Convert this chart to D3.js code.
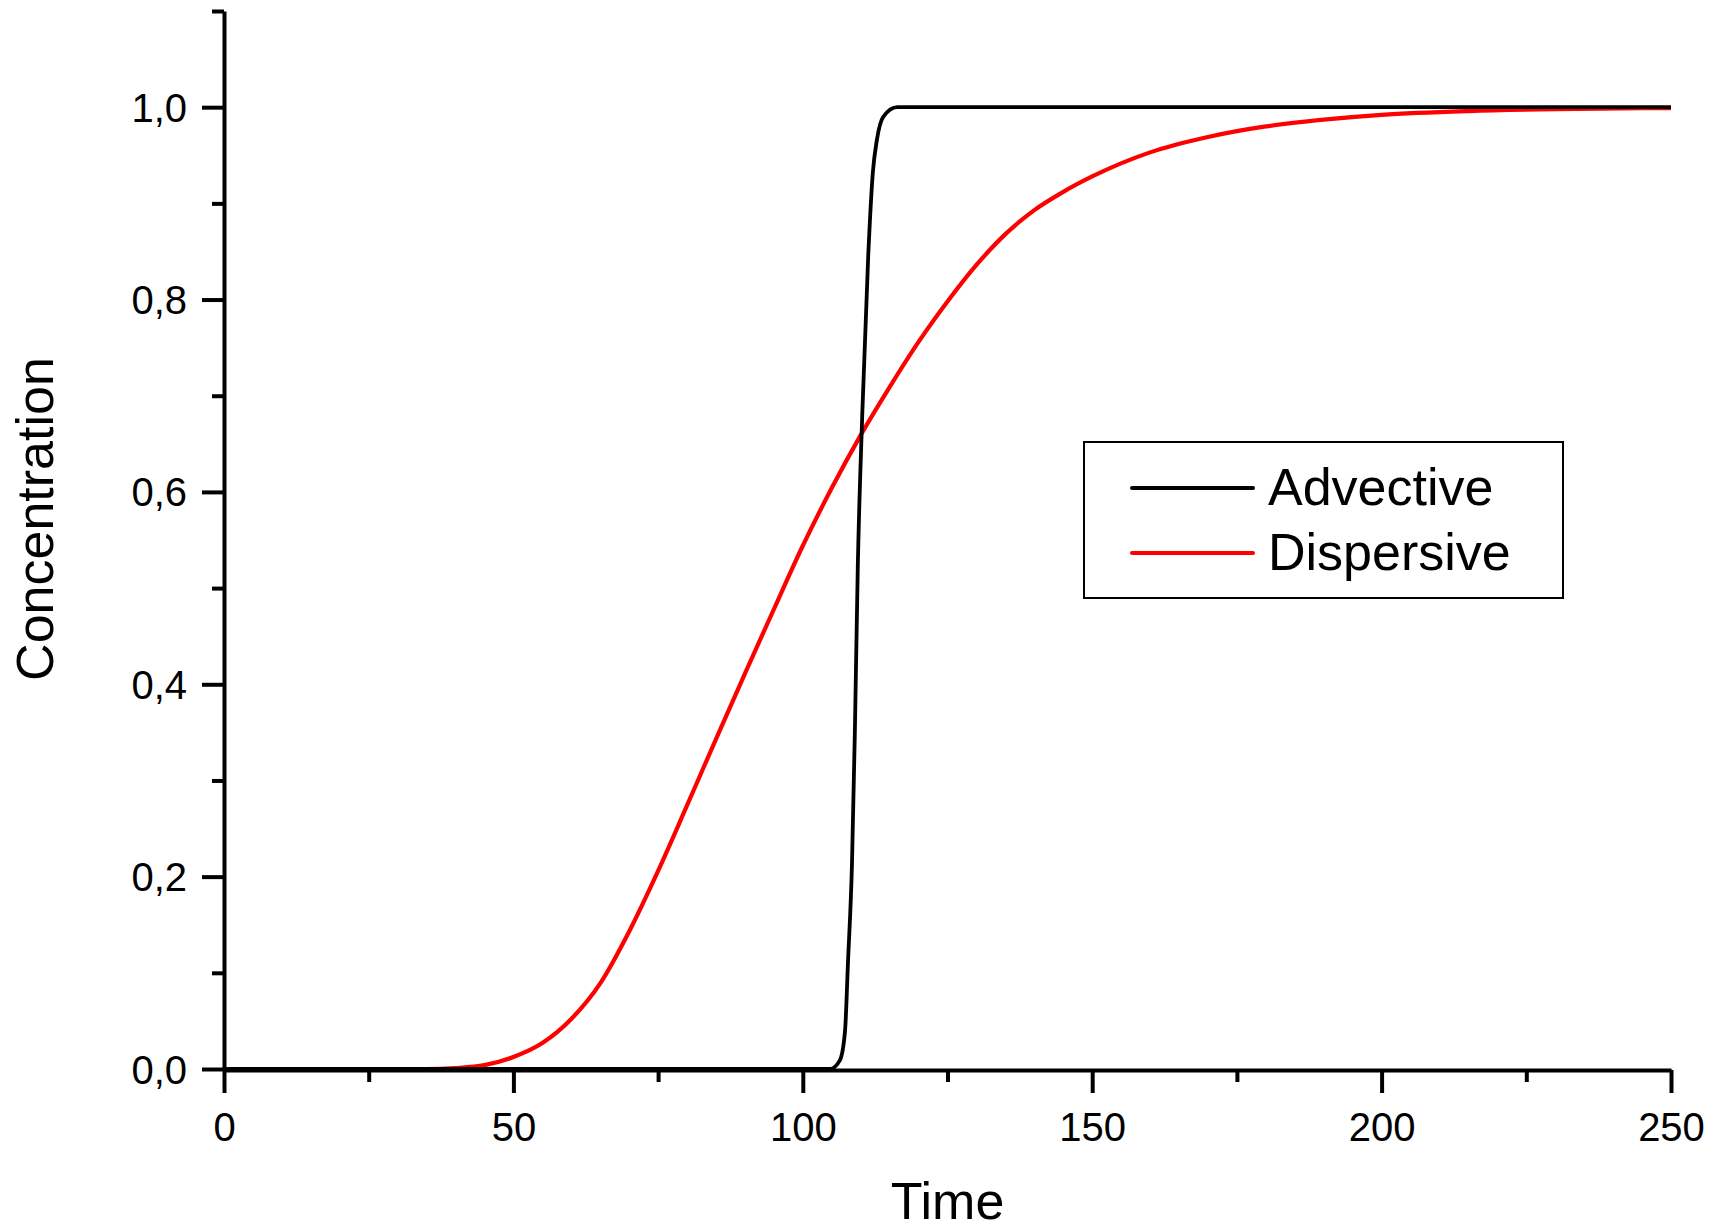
<!DOCTYPE html>
<html>
<head>
<meta charset="utf-8">
<script src="https://cdn.jsdelivr.net/npm/d3@7.9.0/dist/d3.min.js"></script>
<style>
  body { margin: 0; background: #fff; }
  svg { display: block; font-family: "Liberation Sans", Arial, sans-serif; }
</style>
</head>
<body>
<svg id="chart" width="1725" height="1229"></svg>
<script>
// data
const advectiveTime = [0, 104.7, 106.4, 107.3, 107.8, 108.5, 109.0, 109.5, 110.3, 111.3, 112.1, 112.8, 113.9, 116.3, 250];
const advectiveConc = [0, 0, 0.009, 0.04, 0.11, 0.214, 0.352, 0.522, 0.685, 0.845, 0.932, 0.966, 0.99, 1.0, 1.0];

const dispersiveTime = [0, 35, 40, 45, 50, 55, 60, 65, 70, 75, 80, 85, 90, 95, 100, 105, 110, 115, 120, 125, 130, 135, 140, 145, 150, 160, 170, 180, 190, 200, 215, 230, 250];
const dispersiveConc = [0, 0, 0.001, 0.004, 0.0125, 0.027, 0.052, 0.089, 0.143, 0.206, 0.274, 0.343, 0.411, 0.478, 0.544, 0.604, 0.659, 0.709, 0.756, 0.798, 0.836, 0.868, 0.893, 0.912, 0.928, 0.953, 0.969, 0.98, 0.987, 0.992, 0.996, 0.998, 0.999];

const xMajor = [0, 50, 100, 150, 200, 250];
const xMinor = [25, 75, 125, 175, 225];
const yMajor = [0, 0.2, 0.4, 0.6, 0.8, 1.0];
const yMinor = [0.1, 0.3, 0.5, 0.7, 0.9, 1.1];

const seriesNames = ['Advective', 'Dispersive'];
const seriesColors = ['#000000', '#ff0000'];

const svg = d3.select('#chart');

const plotLeft = 224, plotRight = 1671, plotTop = 11, plotBottom = 1070;

let x = d3.scaleLinear().domain([0, 250]).range([plotLeft, plotRight]);
let y = d3.scaleLinear().domain([0, 1.1]).range([plotBottom - 1, plotTop]);

const fmt = (d) => d3.format('.1f')(d).replace('.', ',');

// x axis
const gx = svg.append('g').attr('transform', `translate(0,${plotBottom})`);
gx.call(d3.axisBottom(x).tickValues(xMajor).tickSize(23).tickPadding(20).tickSizeOuter(0));
gx.append('g').call(d3.axisBottom(x).tickValues(xMinor).tickSize(12).tickFormat(''));

// y axis
const gy = svg.append('g').attr('transform', `translate(${plotLeft},0)`);
gy.call(d3.axisLeft(y).tickValues(yMajor).tickSize(22).tickPadding(15).tickFormat(fmt).tickSizeOuter(0));
gy.append('g').call(d3.axisLeft(y).tickValues(yMinor).tickSize(12).tickFormat(''));

svg.selectAll('g g .domain').remove();
svg.selectAll('.domain').attr('stroke', '#000').attr('stroke-width', 4);
svg.selectAll('.tick line').attr('stroke', '#000').attr('stroke-width', 4);
svg.selectAll('.tick text').attr('font-size', 40).attr('fill', '#000')
  .attr('font-family', '"Liberation Sans", Arial, sans-serif');
gy.selectAll('.tick text').attr('dy', '0.35em');

// axis titles
svg.append('text')
  .attr('x', (plotLeft + plotRight) / 2).attr('y', 1219)
  .attr('text-anchor', 'middle').attr('font-size', 52)
  .text('Time');

svg.append('text')
  .attr('transform', 'translate(53,519) rotate(-90)')
  .attr('text-anchor', 'middle').attr('font-size', 52)
  .text('Concentration');

// curves
const line = d3.line().x((d) => x(d[0])).y((d) => y(d[1])).curve(d3.curveMonotoneX);

svg.append('path')
  .datum(dispersiveTime.map((t, i) => [t, dispersiveConc[i]]))
  .attr('d', line).attr('fill', 'none')
  .attr('stroke', seriesColors[1]).attr('stroke-width', 4.2);

svg.append('path')
  .datum(advectiveTime.map((t, i) => [t, advectiveConc[i]]))
  .attr('d', line).attr('fill', 'none')
  .attr('stroke', seriesColors[0]).attr('stroke-width', 3.8);

// legend
const legend = svg.append('g');
legend.append('rect')
  .attr('x', 1084).attr('y', 442).attr('width', 479).attr('height', 156)
  .attr('fill', '#fff').attr('stroke', '#000').attr('stroke-width', 2);

seriesNames.forEach((name, i) => {
  const ly = 488 + i * 65;
  legend.append('line')
    .attr('x1', 1132).attr('x2', 1253).attr('y1', ly).attr('y2', ly)
    .attr('stroke', seriesColors[i]).attr('stroke-width', 4).attr('stroke-linecap', 'round');
  legend.append('text')
    .attr('x', 1268).attr('y', ly + 17).attr('font-size', 52)
    .text(name);
});
</script>
</body>
</html>
